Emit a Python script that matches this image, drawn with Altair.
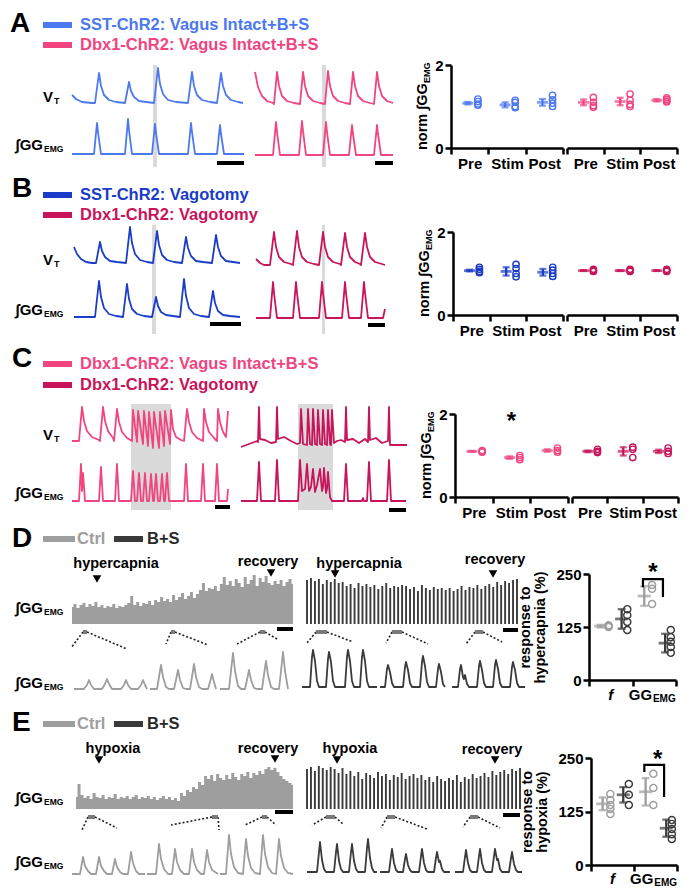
import altair as alt
import pandas as pd

FONT = "Liberation Sans"
BLUE, PINK, DBLUE, DPINK = "#4c78f0", "#f0457f", "#1a3cc8", "#c8145a"
GRAY, DARK, STIMC, MARKC = "#9e9e9e", "#3a3a3a", "#dadada", "#7a7a7a"

# ---------------- traces: (time, amplitude) pairs ----------------
A_VT_L = list(zip([0,4,10,20,23,27,29,32,37,44,53,57,59,62,67,74,82,86,88,91,96,104,116,120,122,125,130,138,145,149,151,154,159,166,171],
                  [8,4,1,0,0,30,17,8,3,1,0,21,12,6,2,1,0,35,19,9,3,1,0,31,17,8,3,1,0,30,17,8,3,1,0]))
A_GG_L = list(zip([0,22,25,26,29,53,56,57,60,80,83,84,87,116,119,120,123,145,148,149,152,172],
                  [0,0,31,22,0,0,35,24,0,0,30,21,0,0,31,22,0,0,29,20,0,0]))
A_VT_R = list(zip([0,3,7,12,18,19,22,24,27,32,39,45,48,50,53,58,65,70,73,75,78,83,90,95,98,100,103,108,115,119,122,124,127,132,138],
                  [32,17,8,3,1,0,32,18,8,3,1,0,32,18,8,3,1,0,33,18,8,3,1,0,32,18,8,3,1,0,32,18,8,3,1]))
A_GG_R = list(zip([0,18,21,22,25,44,47,48,51,68,71,72,75,94,97,98,101,119,122,123,126,138],
                  [0,0,33,23,0,0,34,24,0,0,33,23,0,0,30,21,0,0,30,21,0,0]))

B_VT_L = list(zip([0,3,7,12,18,22,26,28,31,36,43,52,56,58,61,66,73,79,83,85,88,93,100,108,112,114,117,122,129,138,142,144,147,152,159,166],
                  [16,9,4,1,0,0,21,12,6,2,1,0,36,20,9,3,1,0,32,18,8,3,1,0,26,15,7,2,1,0,28,16,7,2,1,0]))
B_GG_L = list(zip([0,21,25,27,30,35,42,49,53,55,58,63,70,78,82,84,87,92,99,106,110,112,115,120,127,135,139,141,144,149,156,166],
                  [0,0,36,20,9,3,1,0,33,18,8,3,1,0,20,11,5,2,1,0,38,21,9,3,1,0,26,14,6,2,1,0]))
B_VT_R = list(zip([0,4,8,14,18,20,23,28,35,37,41,43,46,51,58,63,67,69,72,77,84,85,89,91,94,99,104,105,109,111,114,119,126,129],
                  [6,2,0,0,33,18,8,3,1,0,34,18,8,3,1,0,33,18,8,3,1,0,32,18,8,3,1,0,32,18,8,3,1,0]))
B_GG_R = list(zip([0,14,17,18,21,37,40,41,44,63,66,67,70,86,89,90,93,105,108,109,112,127,129],
                  [0,0,36,25,0,0,36,25,0,0,36,25,0,0,36,25,0,0,36,25,0,0,9]))

C_VT_L = [(0,0),(7,0),(10,34),(12,20),(15,10),(20,4),(27,1),(28,0),(31,34),(33,20),(36,10),(41,3),(42,0),(45,32),(47,19),
          (50,9),(55,3),(60,0),(61,31),(65,-1),(66,30),(71,-3),(72,30),(76,-5),(77,29),(81,-7),(82,29),(87,-7),(88,29),
          (92,-5),(93,30),(98,-3),(99,31),(101,12),(104,4),(109,1),(112,0),(115,32),(117,19),(120,9),(125,3),(131,0),
          (132,32),(134,19),(137,9),(142,3),(145,0),(146,32),(148,19),(151,9),(154,4),(156,30)]
C_GG_L = [(0,0),(7,0),(9,37),(10,10),(11,28),(13,0),(27,0),(29,34),(31,0),(43,0),(45,37),(47,0),(59,0),(61,30),(63,0),
          (65,0),(67,28),(69,0),(71,0),(73,28),(75,0),(77,0),(79,27),(81,0),(82,0),(84,27),(86,0),(88,0),(90,27),(92,0),
          (93,0),(95,28),(97,0),(112,0),(114,37),(116,0),(129,0),(131,37),(133,0),(143,0),(145,37),(147,0),(155,0),(156,12)]
C_VT_R = [(0,-5),(8,-2),(16,1),(17,0),(18,35),(19,3),(24,2),(30,-1),(35,0),(36,35),(37,3),(43,5),(50,1),(56,-2),(59,-1),
          (60,33),(62,-2),(66,-3),(67,33),(69,-2),(71,-3),(72,33),(74,-2),(76,-3),(77,32),(79,-2),(81,-3),(82,32),(84,-2),
          (86,-3),(87,32),(89,-2),(90,-3),(91,32),(93,-1),(96,1),(100,2),(104,0),(105,35),(106,2),(112,3),(118,-1),(124,3),
          (127,0),(128,35),(129,2),(135,4),(141,-1),(147,1),(148,35),(149,-3),(160,-3),(166,-3)]
C_GG_R = [(0,0),(16,0),(18,39),(20,0),(34,0),(36,41),(38,0),(57,0),(59,41),(61,10),(64,12),(66,37),(68,10),(70,14),(72,32),
          (74,9),(76,16),(79,32),(81,10),(82,14),(83,33),(85,8),(86,12),(87,29),(89,4),(91,0),(103,0),(105,37),(107,0),
          (121,0),(122,3),(123,0),(126,0),(128,39),(130,0),(146,0),(148,41),(150,0),(165,0)]

# dense integrated EMG traces (breath heights)
D_CTRL = [17,20,16,19,21,17,20,18,22,17,19,16,18,17,20,16,18,17,19,21,28,19,22,18,21,20,23,19,24,22,
          27,23,25,22,29,24,27,31,25,28,32,26,30,34,41,33,36,35,38,33,40,47,39,43,38,45,41,37,47,40,
          44,49,38,46,42,48,41,39,43,40,44,38,42,45,40]
D_BS = [44,46,43,45,40,44,42,45,41,42,38,40,36,41,38,40,37,39,35,38,41,36,38,37,39,38,35,37,33,39,
        36,34,37,35,36,34,36,33,35,38,34,37,36,39,35,38,40,37,42,39,43,41,44,45]
E_CTRL = [12,25,14,11,13,10,16,12,11,14,10,12,11,15,10,12,11,13,10,12,14,10,12,11,13,10,12,9,11,13,
          10,12,9,11,8,16,13,19,17,22,20,27,24,33,30,34,28,35,31,29,34,30,36,32,29,35,33,37,31,36,
          34,38,35,40,42,39,41,37,33,30,28,26,24]
E_BS = [40,42,38,43,41,39,42,40,36,41,35,38,33,37,30,36,34,31,37,33,35,29,34,32,36,30,33,35,31,34,
        29,32,27,33,30,28,31,29,34,27,32,30,35,31,33,36,32,38,34,37,39,35,40,38,41]

# expanded segments
D_S1 = [(0,0),(10,0),(13,4),(15,9),(17,4),(20,0),(28,0),(31,5),(33,10),(35,5),(38,0),(47,0),(50,4),(52,9),(54,4),(57,0),(64,0),(67,4),(69,9),(71,4),(73,0)]
D_S2 = [(0,0),(7,0),(9,12),(11,24),(13,12),(16,2),(19,0),(24,0),(26,9),(28,19),(30,9),(33,1),(36,0),(40,0),(42,12),(44,25),(46,12),(49,2),(52,0),(58,0),(60,7),(62,15),(64,7),(66,0)]
D_S3 = [(0,0),(9,0),(11,18),(13,36),(15,18),(18,3),(21,0),(25,0),(27,9),(29,19),(31,9),(34,1),(37,0),(42,0),(44,14),(46,28),(48,14),(51,2),(54,0),(59,0),(61,18),(63,37),(65,18),(68,0)]
D_R1 = [(0,0),(8,0),(10,30),(11,37),(13,26),(15,6),(17,0),(24,0),(26,28),(27,35),(29,25),(31,6),(33,0),(43,0),(45,30),(46,37),(48,26),(50,6),(52,0),(58,0),(60,30),(61,37),(63,26),(65,6),(67,0),(75,0)]
D_R2 = [(0,0),(5,0),(7,18),(8,22),(10,15),(12,4),(14,0),(23,0),(25,20),(26,25),(28,17),(30,4),(32,0),(40,0),(42,25),(43,31),(45,21),(47,5),(49,0),(56,0),(58,18),(59,23),(61,15),(63,3),(65,0)]
D_R3 = [(0,0),(6,0),(8,18),(9,22),(11,10),(12,8),(13,12),(15,3),(17,0),(25,0),(27,21),(28,26),(30,17),(32,4),(34,0),(41,0),(43,22),(44,27),(46,18),(48,4),(50,0),(58,0),(60,20),(61,25),(63,17),(65,4),(67,0),(73,0)]
E_S1 = [(0,0),(8,0),(11,17),(13,8),(16,3),(19,0),(24,0),(27,17),(29,8),(32,3),(35,0),(40,0),(43,15),(45,7),(48,2),(51,0),(56,0),(59,22),(61,11),(64,3),(67,0),(73,0)]
E_S2 = [(0,0),(9,0),(12,30),(14,15),(17,5),(21,0),(25,0),(28,25),(30,12),(33,4),(37,0),(42,0),(45,25),(47,12),(50,4),(54,0),(57,0),(60,24),(62,12),(65,4),(71,0)]
E_S3 = [(0,0),(6,0),(9,39),(11,20),(14,7),(18,1),(23,0),(26,35),(28,18),(31,6),(35,1),(40,0),(43,39),(45,20),(48,7),(52,1),(56,0),(59,35),(61,18),(64,6),(68,1),(73,0)]
E_R1 = [(0,0),(10,0),(12,20),(13,30),(15,12),(17,3),(19,0),(27,0),(29,20),(30,28),(32,11),(34,3),(36,0),(42,0),(44,20),(45,28),(47,11),(49,3),(51,0),(58,0),(60,24),(61,33),(63,14),(65,4),(67,0),(70,0)]
E_R2 = [(0,0),(9,0),(11,16),(12,23),(14,9),(16,2),(18,0),(23,0),(25,13),(26,18),(28,7),(30,2),(32,0),(39,0),(41,16),(42,23),(44,9),(46,2),(48,0),(54,0),(56,14),(57,20),(59,10),(60,11),(62,3),(64,0),(70,0)]
E_R3 = [(0,0),(8,0),(10,15),(11,22),(13,9),(15,2),(17,0),(22,0),(24,16),(25,23),(27,9),(29,2),(31,0),(37,0),(39,16),(40,23),(42,12),(43,13),(45,3),(47,0),(54,0),(56,14),(57,20),(59,8),(61,2),(63,0),(67,0)]

# ---------------- summary data (mean, SD, individual animals) ----------------
CATS3 = ["Pre", "Stim", "Post"]
A_SST = dict(color=BLUE, means=[1.08,1.04,1.10], sds=[0.03,0.06,0.08], pts=[[1.18,1.12,1.06,1.03],[1.15,1.10,1.00,0.97],[1.27,1.16,1.08,1.00]])
A_DBX = dict(color=PINK, means=[1.10,1.12,1.15], sds=[0.07,0.09,0.03], pts=[[1.22,1.10,1.02,0.98],[1.30,1.15,1.05,1.00],[1.21,1.17,1.13,1.11]])
B_SST = dict(color=DBLUE, means=[1.07,1.05,1.03], sds=[0.02,0.10,0.08], pts=[[1.15,1.10,1.05,1.02],[1.22,1.12,1.00,0.92],[1.15,1.08,1.00,0.93]])
B_DBX = dict(color=DPINK, means=[1.07,1.07,1.07], sds=[0.01,0.01,0.01], pts=[[1.10,1.07,1.05],[1.10,1.07,1.05],[1.10,1.07,1.05]])
C_INT = dict(color=PINK, means=[1.10,0.95,1.12], sds=[0.01,0.03,0.03], pts=[[1.12,1.10,1.08],[1.00,0.95,0.90],[1.18,1.12,1.08]])
C_VAG = dict(color=DPINK, means=[1.10,1.10,1.10], sds=[0.02,0.10,0.04], pts=[[1.15,1.10,1.07],[1.20,1.15,0.95],[1.18,1.10,1.05]])
D_CTRL_S = dict(color=GRAY, means=[127,198], sds=[3,23], pts=[[129,127,125],[224,215,179]])
D_BS_S = dict(color=DARK, means=[144,87], sds=[23,22], pts=[[167,153,137,118],[118,101,90,78,64]])
E_CTRL_S = dict(color=GRAY, means=[143,171], sds=[15,32], pts=[[166,152,140,131,119],[213,180,140]])
E_BS_S = dict(color=DARK, means=[164,86], sds=[18,20], pts=[[189,164,140],[105,96,84,72,61]])

ONE = pd.DataFrame({"k": [0]})


def txt(s, x, y, size, color="black", align="left", baseline="middle", angle=0, style="normal"):
    return alt.Chart(ONE).mark_text(text=s, font=FONT, fontSize=size, fontWeight="bold", fontStyle=style,
                                    color=color, align=align, baseline=baseline, angle=angle
                                    ).encode(x=alt.value(x), y=alt.value(y))


def hrule(x1, x2, y, color, w):
    return alt.Chart(ONE).mark_rule(color=color, strokeWidth=w).encode(
        x=alt.value(x1), x2=alt.value(x2), y=alt.value(y))


def label_gg(x, y, size=15, sub=8.5):
    return [txt("\u222bGG", x, y, size, align="right"), txt("EMG", x + 1, y + 4, sub)]


def trace_panel(sp):
    TW, RH = sp["TW"], sp["RH"]
    xs = alt.Scale(domain=[0, TW], nice=False, zero=False)
    ys = alt.Scale(domain=[RH, 0], nice=False, zero=False)
    X = lambda f="x": alt.X(f + ":Q", scale=xs, axis=None)
    Y = lambda f="y": alt.Y(f + ":Q", scale=ys, axis=None)
    L = []
    if sp.get("stims"):
        df = pd.DataFrame([dict(x=a, x2=b, y=c, y2=d) for a, b, c, d in sp["stims"]])
        L.append(alt.Chart(df).mark_rect(color=STIMC).encode(x=X(), x2=alt.X2("x2"), y=Y(), y2=alt.Y2("y2")))
    for vals, x0, x1, base, color in sp.get("areas", []):
        n = len(vals)
        df = pd.DataFrame({"x": [x0 + (x1 - x0) * i / (n - 1) for i in range(n)],
                           "y": [base - v for v in vals], "y0": [base] * n})
        L.append(alt.Chart(df).mark_area(color=color, opacity=1, interpolate="step").encode(
            x=X(), y=Y(), y2=alt.Y2("y0")))
    for vals, x0, x1, base, color in sp.get("bars", []):
        n = len(vals)
        df = pd.DataFrame({"x": [x0 + (x1 - x0) * i / (n - 1) for i in range(n)],
                           "y": [base - v for v in vals], "y0": [base] * n})
        L.append(alt.Chart(df).mark_rule(color=color, strokeWidth=1.9).encode(x=X(), y=Y(), y2=alt.Y2("y0")))
    rows = []
    for k, (pairs, x0, base, color) in enumerate(sp.get("lines", [])):
        for i, (t, v) in enumerate(pairs):
            rows.append(dict(x=x0 + t, y=base - v, tid=k, i=i, c=color))
    if rows:
        L.append(alt.Chart(pd.DataFrame(rows)).mark_line(strokeWidth=1.8, strokeJoin="round").encode(
            x=X(), y=Y(), detail="tid:N", order="i:Q", color=alt.Color("c:N", scale=None)))
    if sp.get("dotted"):
        df = pd.DataFrame([dict(x=a, y=b, x2=c, y2=d) for a, b, c, d in sp["dotted"]])
        L.append(alt.Chart(df).mark_rule(color="#222222", strokeWidth=1.6, strokeDash=[2, 2]).encode(
            x=X(), y=Y(), x2=alt.X2("x2"), y2=alt.Y2("y2")))
    if sp.get("markers"):
        df = pd.DataFrame([dict(x=a, x2=b, y=c) for a, b, c in sp["markers"]])
        L.append(alt.Chart(df).mark_rule(color=MARKC, strokeWidth=4).encode(x=X(), x2=alt.X2("x2"), y=Y()))
    df = pd.DataFrame([dict(x=a, x2=b, y=c) for a, b, c in sp["scalebars"]])
    L.append(alt.Chart(df).mark_rule(color="black", strokeWidth=4).encode(x=X(), x2=alt.X2("x2"), y=Y()))
    if sp.get("tris"):
        df = pd.DataFrame([dict(x=a, y=b) for a, b in sp["tris"]])
        L.append(alt.Chart(df).mark_point(shape="triangle-down", filled=True, size=75, color="black", opacity=1
                                          ).encode(x=X(), y=Y()))
    for x1, x2, y, c in sp.get("legend_rules", []):
        L.append(hrule(x1, x2, y, c, 6))
    L.extend(sp.get("texts", []))
    return alt.layer(*L).properties(width=TW, height=RH)


AX = dict(grid=False, domainColor="black", domainWidth=2.5, tickColor="black", tickWidth=2.5, tickSize=6,
          labelFont=FONT, labelFontSize=15, labelFontWeight="bold", labelColor="black", labelPadding=2)


def dot_panel(series, ncat, W, H, top, ymax, yvals, offs, show_y, cap, meanw, psize, ytitle=None, extras=None):
    xs = alt.Scale(domain=[0, ncat], nice=False, zero=False)
    ys = alt.Scale(domain=[0, ymax], range=[H, top], nice=False, zero=False)
    if ncat == 3:
        xaxis = alt.Axis(values=[0, 0.5, 1, 1.5, 2, 2.5, 3], title=None,
                         labelExpr="datum.value == 0.5 ? 'Pre' : datum.value == 1.5 ? 'Stim' : datum.value == 2.5 ? 'Post' : ''",
                         tickOpacity={"condition": {"test": "datum.value % 1 != 0", "value": 0}, "value": 1},
                         labelOverlap=False, labelFlush=False, labelBound=False, **AX)
    else:
        xaxis = alt.Axis(values=[0, 1, 2], labels=False, title=None, **AX)
    if show_y:
        if ytitle:
            yaxis = alt.Axis(values=yvals, format="d", title=ytitle, titleFont=FONT, titleFontSize=14.5,
                             titleFontWeight="bold", titleColor="black", titlePadding=8, titleLineHeight=15, **AX)
        else:
            yaxis = alt.Axis(values=yvals, format="d", title=None, **AX)
    else:
        yaxis = None
    summ, pts = [], []
    for s, (mo, po) in zip(series, offs):
        for i in range(ncat):
            m, sd = s["means"][i], s["sds"][i]
            summ.append(dict(x=i + mo, m=m, lo=m - sd, hi=m + sd, c=s["color"]))
            for v in s["pts"][i]:
                pts.append(dict(x=i + po, v=v, c=s["color"]))
    S, P = pd.DataFrame(summ), pd.DataFrame(pts)
    X = lambda: alt.X("x:Q", scale=xs, axis=xaxis)
    Y = lambda f: alt.Y(f + ":Q", scale=ys, axis=yaxis)
    col = alt.Color("c:N", scale=None)
    L = [
        alt.Chart(S).mark_rule(strokeWidth=2.3).encode(x=X(), y=Y("lo"), y2=alt.Y2("hi"), color=col),
        alt.Chart(S).mark_tick(orient="horizontal", size=cap, thickness=2.3).encode(x=X(), y=Y("lo"), color=col),
        alt.Chart(S).mark_tick(orient="horizontal", size=cap, thickness=2.3).encode(x=X(), y=Y("hi"), color=col),
        alt.Chart(S).mark_tick(orient="horizontal", size=meanw, thickness=2.8).encode(x=X(), y=Y("m"), color=col),
        alt.Chart(P).mark_point(filled=False, size=psize, strokeWidth=1.4, opacity=1).encode(x=X(), y=Y("v"), color=col),
    ]
    for e in (extras or []):
        kind = e[0]
        if kind == "star":
            L.append(alt.Chart(pd.DataFrame({"x": [e[1]]})).mark_text(
                text="*", font=FONT, fontSize=24, fontWeight="bold", color="black", baseline="alphabetic"
            ).encode(x=X(), y=alt.value(e[2])))
        elif kind == "bracket":
            df = pd.DataFrame({"x": e[1], "v": e[2], "i": list(range(len(e[1])))})
            L.append(alt.Chart(df).mark_line(color="black", strokeWidth=2.2).encode(x=X(), y=Y("v"), order="i:Q"))
        elif kind == "xlab":
            L.append(alt.Chart(pd.DataFrame({"x": [e[1]]})).mark_text(
                text=e[2], font=FONT, fontSize=e[4], fontWeight="bold", fontStyle=e[5], color="black",
                align=e[6], baseline="middle").encode(x=X(), y=alt.value(e[3])))
        elif kind == "ysub":
            L.append(txt("norm \u222bGG", -28, H + 2, 14.5, angle=270))
            L.append(txt("EMG", -24, H + 2 - 67, 9, angle=270))
    return alt.layer(*L).properties(width=W, height=H)


OFF3 = [(0.45, 0.72)]
OFF2 = [(0.27, 0.45), (0.75, 0.88)]

# ---------------- Row A ----------------
rowA_sp = dict(TW=439, RH=167,
    lines=[(A_VT_L, 64, 95, BLUE), (A_GG_L, 64, 146, BLUE), (A_VT_R, 247, 96, PINK), (A_GG_R, 247, 147, PINK)],
    stims=[(145, 149, 57, 159), (314, 318, 57, 159)],
    scalebars=[(209, 236, 155), (367, 385, 155)],
    legend_rules=[(35, 64, 17, BLUE), (35, 64, 37, PINK)],
    texts=[txt("A", 2, 24, 28, baseline="alphabetic"),
           txt("SST-ChR2: Vagus Intact+B+S", 72, 17, 16.5, BLUE),
           txt("Dbx1-ChR2: Vagus Intact+B+S", 72, 37, 16.5, PINK),
           txt("V", 45, 89, 15, align="right"), txt("T", 46, 93, 9)] + label_gg(35, 137))
rowA = alt.hconcat(trace_panel(rowA_sp),
                   dot_panel([A_SST], 3, 112, 140, 57, 2, [0, 1, 2], OFF3, True, 7, 11, 40, extras=[("ysub",)]),
                   dot_panel([A_DBX], 3, 110, 140, 57, 2, [0, 1, 2], OFF3, False, 7, 11, 40),
                   spacing=4, bounds="flush")

# ---------------- Row B ----------------
rowB_sp = dict(TW=441, RH=168,
    lines=[(B_VT_L, 66, 86, DBLUE), (B_GG_L, 66, 140, DBLUE), (B_VT_R, 248, 88, DPINK), (B_GG_R, 248, 141, DPINK)],
    stims=[(144, 148, 48, 157), (314, 317, 48, 157)],
    scalebars=[(202, 233, 147), (360, 377, 148)],
    legend_rules=[(35, 64, 18, DBLUE), (35, 64, 38, DPINK)],
    texts=[txt("B", 4, 20, 28, baseline="alphabetic"),
           txt("SST-ChR2: Vagotomy", 72, 18, 16.5, DBLUE),
           txt("Dbx1-ChR2: Vagotomy", 72, 38, 16.5, DPINK),
           txt("V", 45, 83, 15, align="right"), txt("T", 46, 87, 9)] + label_gg(35, 133))
rowB = alt.hconcat(trace_panel(rowB_sp),
                   dot_panel([B_SST], 3, 110, 138, 55, 2, [0, 1, 2], OFF3, True, 7, 11, 40, extras=[("ysub",)]),
                   dot_panel([B_DBX], 3, 110, 138, 55, 2, [0, 1, 2], OFF3, False, 7, 11, 40),
                   spacing=4, bounds="flush")

# ---------------- Row C ----------------
rowC_sp = dict(TW=443, RH=180,
    lines=[(C_VT_L, 64, 96, PINK), (C_GG_L, 64, 156, PINK), (C_VT_R, 233, 97, DPINK), (C_GG_R, 233, 156, DPINK)],
    stims=[(123, 163, 59, 165), (290, 325, 59, 165)],
    scalebars=[(207, 222, 162), (381, 398, 165)],
    legend_rules=[(35, 64, 19, PINK), (35, 64, 40, DPINK)],
    texts=[txt("C", 4, 22, 28, baseline="alphabetic"),
           txt("Dbx1-ChR2: Vagus Intact+B+S", 72, 19, 16.5, PINK),
           txt("Dbx1-ChR2: Vagotomy", 72, 40, 16.5, DPINK),
           txt("V", 45, 90, 15, align="right"), txt("T", 46, 94, 9)] + label_gg(35, 148))
rowC = alt.hconcat(trace_panel(rowC_sp),
                   dot_panel([C_INT], 3, 113, 152, 69, 2, [0, 1, 2], OFF3, True, 7, 11, 40,
                             extras=[("ysub",), ("star", 1.5, 84)]),
                   dot_panel([C_VAG], 3, 106, 152, 69, 2, [0, 1, 2], OFF3, False, 7, 11, 40),
                   spacing=4, bounds="flush")


def hyp_row(letter, dense_c, dense_b, small, markers, dotted, scalebars, tris, labels, ggy, legy, lety, TW, RH):
    sp = dict(TW=TW, RH=RH, areas=[dense_c], bars=[dense_b], lines=small, markers=markers, dotted=dotted,
              scalebars=scalebars, tris=tris,
              legend_rules=[(35, 67, legy, GRAY), (106, 135, legy, DARK)],
              texts=[txt(letter, 4, lety, 28, baseline="alphabetic"),
                     txt("Ctrl", 69, legy, 16.5, GRAY), txt("B+S", 139, legy, 16.5, "#2a2a2a")]
                    + [txt(s, x, y, 14.5, align="center") for s, x, y in labels]
                    + label_gg(35, ggy[0]) + label_gg(35, ggy[1]))
    return trace_panel(sp)


# ---------------- Row D ----------------
rowD_tr = hyp_row("D", (D_CTRL, 64, 285, 99, GRAY), (D_BS, 299, 509, 99, DARK),
    [(D_S1, 66, 164, GRAY), (D_S2, 142, 164, GRAY), (D_S3, 212, 164, GRAY),
     (D_R1, 294, 162, DARK), (D_R2, 372, 162, DARK), (D_R3, 444, 162, DARK)],
    [(75, 79, 107), (163, 167, 107), (252, 257, 107), (308, 319, 107), (384, 394, 107), (467, 475, 107)],
    [(75, 107, 63, 123), (79, 107, 119, 124), (163, 107, 158, 119), (167, 107, 200, 120),
     (252, 107, 229, 119), (257, 107, 269, 114), (308, 107, 299, 118), (319, 107, 345, 117),
     (384, 107, 378, 118), (394, 107, 420, 119), (467, 107, 458, 119), (475, 107, 494, 117)],
    [(269, 285, 104), (495, 510, 105)],
    [(89, 54), (263, 48), (327, 49), (485, 49)],
    [("hypercapnia", 108, 39), ("recovery", 260, 37), ("hypercapnia", 351, 39), ("recovery", 487, 35)],
    (83, 158), 14, 22, 577, 180)
rowD = alt.hconcat(rowD_tr,
    dot_panel([D_CTRL_S, D_BS_S], 2, 87, 155, 49, 250, [0, 125, 250], OFF2, True, 8, 13, 50,
              ytitle=["response to", "hypercapnia (%)"],
              extras=[("bracket", [1.24, 1.24, 1.70, 1.70], [219, 238, 238, 196]), ("star", 1.47, 55),
                      ("xlab", 0.5, "f", 170, 15, "italic", "center"),
                      ("xlab", 1.45, "GG", 170, 15, "normal", "right"),
                      ("xlab", 1.47, "EMG", 174, 10, "normal", "left")]),
    spacing=4, bounds="flush")

# ---------------- Row E ----------------
rowE_tr = hyp_row("E", (E_CTRL, 68, 285, 104, GRAY), (E_BS, 299, 512, 104, DARK),
    [(E_S1, 64, 169, GRAY), (E_S2, 139, 169, GRAY), (E_S3, 212, 169, GRAY),
     (E_R1, 299, 167, DARK), (E_R2, 372, 167, DARK), (E_R3, 447, 167, DARK)],
    [(80, 87, 112), (204, 210, 112), (254, 259, 112), (318, 327, 112), (379, 387, 112), (462, 470, 112)],
    [(80, 112, 74, 125), (87, 112, 109, 123), (204, 112, 163, 120), (210, 112, 211, 125),
     (254, 112, 237, 120), (259, 112, 268, 120), (318, 112, 304, 120), (327, 112, 335, 119),
     (379, 112, 373, 123), (387, 112, 419, 124), (462, 112, 455, 122), (470, 112, 492, 123)],
    [(267, 285, 107), (495, 512, 110)],
    [(91, 55), (267, 54), (329, 55), (487, 55)],
    [("hypoxia", 105, 44), ("recovery", 260, 44), ("hypoxia", 342, 44), ("recovery", 484, 45)],
    (93, 157), 19, 26, 579, 182)
rowE = alt.hconcat(rowE_tr,
    dot_panel([E_CTRL_S, E_BS_S], 2, 86, 160, 53, 250, [0, 125, 250], OFF2, True, 8, 13, 50,
              ytitle=["response to", "hypoxia (%)"],
              extras=[("bracket", [1.24, 1.24, 1.70, 1.70], [217, 234, 234, 159]), ("star", 1.55, 62),
                      ("xlab", 0.5, "f", 174, 15, "italic", "center"),
                      ("xlab", 1.45, "GG", 174, 15, "normal", "right"),
                      ("xlab", 1.47, "EMG", 178, 10, "normal", "left")]),
    spacing=4, bounds="flush")

chart = alt.vconcat(rowA, rowB, rowC, rowD, rowE, spacing=0).properties(
    padding=0, background="white").configure_view(stroke=None)

chart.save("out.html", embed_options={"renderer": "svg", "actions": False})
